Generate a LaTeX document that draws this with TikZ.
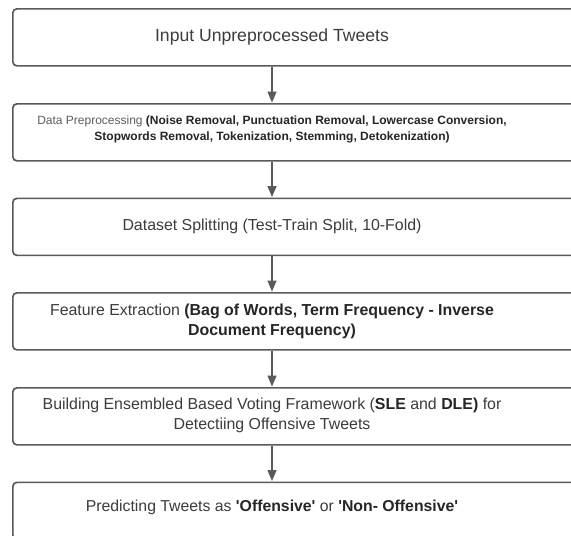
\documentclass[tikz,border=0pt]{standalone}
\usepackage{fontspec}
\setmainfont{Liberation Sans}[Ligatures=TeXOff]
\usetikzlibrary{arrows.meta}
\definecolor{edge}{HTML}{5A5A5A}
\definecolor{txt}{HTML}{3C3C3C}
\definecolor{txtlight}{HTML}{5E5E5E}
\definecolor{txtbold}{HTML}{262626}
\begin{document}
\begin{tikzpicture}[x=1pt,y=1pt,
  box/.style={draw=edge,line width=1.7pt,rounded corners=4pt,fill=white,
    minimum width=600pt,minimum height=57pt,inner sep=0pt,anchor=north west},
  lbl/.style={text=txt,align=center,inner sep=0pt},
  flow/.style={draw=edge,line width=1.5pt,-{Triangle[length=11pt,width=9pt]},shorten >=0.5pt}
]
\clip (0,0) rectangle (571,-536);
\fill[white] (0,0) rectangle (571,-536);
\node[box] (b1) at (12,-8) {};
\node[box] (b2) at (12,-103) {};
\node[box] (b3) at (12,-197.5) {};
\node[box] (b4) at (12,-292) {};
\node[box] (b5) at (12,-387) {};
\node[box] (b6) at (12,-481.5) {};

\node[lbl,font=\fontsize{17.6}{20}\selectfont] (l1) at (272,-36.5) {Input Unpreprocessed Tweets};
\node[lbl,font=\fontsize{12}{16}\selectfont] (l2) at (272,-129.5)
  {{\color{txtlight}Data Preprocessing} {\bfseries\color{txtbold}(Noise Removal, Punctuation Removal, Lowercase Conversion,}\\
   {\bfseries\color{txtbold}Stopwords Removal, Tokenization, Stemming, Detokenization)}};
\node[lbl,font=\fontsize{15.9}{20}\selectfont] (l3) at (272,-226) {Dataset Splitting (Test-Train Split, 10-Fold)};
\node[lbl,font=\fontsize{15.9}{20}\selectfont] (l4) at (272,-321)
  {Feature Extraction {\bfseries\color{txtbold}(Bag of Words, Term Frequency - Inverse}\\
   {\bfseries\color{txtbold}Document Frequency)}};
\node[lbl,font=\fontsize{15.9}{20}\selectfont] (l5) at (272,-415.5)
  {Building Ensembled Based Voting Framework ({\bfseries\color{txtbold}SLE} and {\bfseries\color{txtbold}DLE)} for\\
   Detectiing Offensive Tweets};
\node[lbl,font=\fontsize{15.8}{20}\selectfont] (l6) at (272,-507)
  {Predicting Tweets as {\bfseries\color{txtbold}'Offensive'} or {\bfseries\color{txtbold}'Non- Offensive'}};

\draw[flow] (b1.south -| l1) -- (b2.north -| l1);
\draw[flow] (b2.south -| l1) -- (b3.north -| l1);
\draw[flow] (b3.south -| l1) -- (b4.north -| l1);
\draw[flow] (b4.south -| l1) -- (b5.north -| l1);
\draw[flow] (b5.south -| l1) -- (b6.north -| l1);
\end{tikzpicture}
\end{document}
